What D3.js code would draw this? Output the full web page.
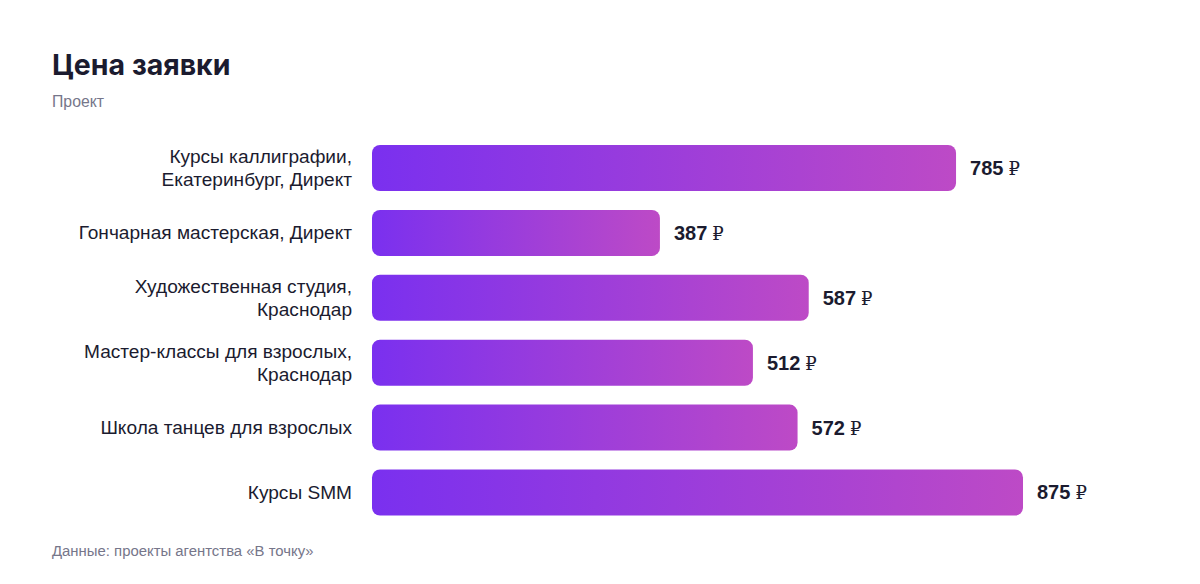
<!DOCTYPE html>
<html><head><meta charset="utf-8">
<script src="https://cdn.jsdelivr.net/npm/d3@7"></script>
<style>
body{margin:0;background:#fff;font-family:Inter,"Noto Sans",sans-serif;}
</style></head><body>
<svg id="chart" width="1200" height="584"></svg>
<script>
const categories = [
  ["Курсы каллиграфии,", "Екатеринбург, Директ"],
  ["Гончарная мастерская, Директ"],
  ["Художественная студия,", "Краснодар"],
  ["Мастер-классы для взрослых,", "Краснодар"],
  ["Школа танцев для взрослых"],
  ["Курсы SMM"]
];
const values = [785, 387, 587, 512, 572, 875];
const currency = "₽";
const title = "Цена заявки";
const subtitle = "Проект";
const source = "Данные: проекты агентства «В точку»";

const svg = d3.select("#chart");
const dark = "#1b1b2f", grey = "#76768a";
const sans = "'Liberation Sans', Arial, sans-serif";

svg.append("text").attr("x",52).attr("y",75).attr("font-size",28.5).attr("font-weight",700)
  .attr("fill",dark).text(title);
svg.append("text").attr("x",52).attr("y",107).attr("font-size",15.8).attr("font-family",sans).attr("fill",grey).text(subtitle);
svg.append("text").attr("x",52).attr("y",556).attr("font-size",14.9).attr("font-family",sans).attr("fill",grey).text(source);

const idx = d3.range(values.length);
const y = d3.scaleBand().domain(idx).range([145, 515.5]).paddingInner(0.29).paddingOuter(0);
const x = d3.scaleLinear().domain([0, d3.max(values)]).range([372, 1023]);

const defs = svg.append("defs");
idx.forEach(i=>{
  const g = defs.append("linearGradient").attr("id","g"+i).attr("x1","0").attr("x2","1").attr("y1","0").attr("y2","0");
  g.append("stop").attr("offset","0").attr("stop-color","#7a30ef");
  g.append("stop").attr("offset","1").attr("stop-color","#bd4ac6");
});

svg.selectAll("rect.bar").data(idx).join("rect").attr("class","bar")
  .attr("x",x(0)).attr("y",i=>y(i)).attr("width",i=>x(values[i])-x(0)).attr("height",y.bandwidth())
  .attr("rx",8).attr("fill",i=>`url(#g${i})`);

const lab = svg.selectAll("text.cat").data(idx).join("text").attr("class","cat")
  .attr("text-anchor","end").attr("font-size",19.1).attr("font-family",sans).attr("fill",dark);
lab.each(function(i){
  const lines = categories[i];
  const cy = y(i)+y.bandwidth()/2;
  const lh = 23;
  const start = cy - (lines.length-1)*lh/2 + 6.5;
  d3.select(this).selectAll("tspan").data(lines).join("tspan")
    .attr("x",352).attr("y",(d,k)=>start+k*lh).text(d=>d);
});

const vl = svg.selectAll("text.val").data(idx).join("text").attr("class","val")
  .attr("x",i=>x(values[i])+14).attr("y",i=>y(i)+y.bandwidth()/2+7)
  .attr("font-size",20).attr("font-family",sans).attr("fill",dark);
vl.append("tspan").attr("font-weight",700).text(i=>values[i]);
vl.append("tspan").attr("font-weight",400).attr("font-size",18).attr("font-family","'DejaVu Serif', serif").attr("dx",5).text(currency);
</script></body></html>
